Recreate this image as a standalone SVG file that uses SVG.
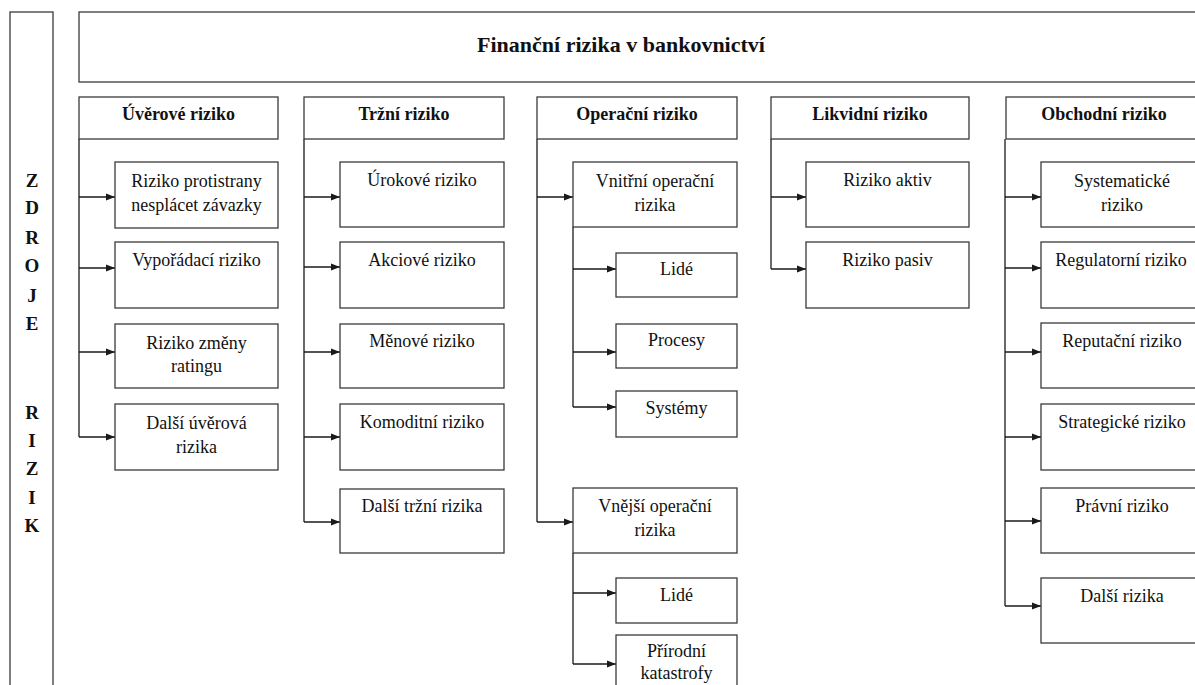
<svg xmlns="http://www.w3.org/2000/svg" width="1195" height="685" viewBox="0 0 1195 685">
<defs>
<marker id="ah" viewBox="0 0 10 10" refX="10" refY="5" markerWidth="9" markerHeight="9" markerUnits="userSpaceOnUse" orient="auto">
<path d="M0,1 L10,5 L0,9 Z" fill="#1a1a1a"/>
</marker>
<style>
rect{fill:#fff;stroke:#3a3a3a;stroke-width:1.3}
text{font-family:"Liberation Serif","Times New Roman",serif;fill:#111;text-anchor:middle}
.t{font-size:22px;font-weight:bold}
.h{font-size:18px;font-weight:bold}
.c{font-size:18px}
.v{font-size:19px;font-weight:bold}
#connectors path{fill:none;stroke:#1a1a1a;stroke-width:1.3}
#connectors .a{marker-end:url(#ah)}
</style>
</defs>
<rect width="1195" height="685" style="fill:#fff;stroke:none"/>

<g id="side">
<rect x="10" y="12" width="43" height="700"/>
<text class="v" x="32" y="187">Z</text>
<text class="v" x="32" y="214">D</text>
<text class="v" x="32" y="244">R</text>
<text class="v" x="32" y="272">O</text>
<text class="v" x="32" y="302">J</text>
<text class="v" x="32" y="330">E</text>
<text class="v" x="32" y="419">R</text>
<text class="v" x="32" y="447">I</text>
<text class="v" x="32" y="475">Z</text>
<text class="v" x="32" y="504">I</text>
<text class="v" x="32" y="532">K</text>
</g>

<g id="title">
<rect x="79" y="12" width="1200" height="70"/>
<text class="t" x="621" y="52">Finanční rizika v bankovnictví</text>
</g>

<g id="connectors">
<path d="M79,139 V437"/>
<path class="a" d="M79,197 H115"/>
<path class="a" d="M79,268 H115"/>
<path class="a" d="M79,352 H115"/>
<path class="a" d="M79,437 H115"/>
<path d="M304,139 V522"/>
<path class="a" d="M304,197 H340"/>
<path class="a" d="M304,267 H340"/>
<path class="a" d="M304,352 H340"/>
<path class="a" d="M304,437 H340"/>
<path class="a" d="M304,522 H340"/>
<path d="M537,139 V522"/>
<path class="a" d="M537,197 H573"/>
<path class="a" d="M537,522 H573"/>
<path d="M573,227 V407"/>
<path class="a" d="M573,269 H616"/>
<path class="a" d="M573,352 H616"/>
<path class="a" d="M573,407 H616"/>
<path d="M573,553 V664"/>
<path class="a" d="M573,593 H616"/>
<path class="a" d="M573,664 H616"/>
<path d="M771,139 V269"/>
<path class="a" d="M771,197 H806"/>
<path class="a" d="M771,269 H806"/>
<path d="M1005,139 V606"/>
<path class="a" d="M1005,197 H1041"/>
<path class="a" d="M1005,268 H1041"/>
<path class="a" d="M1005,352 H1041"/>
<path class="a" d="M1005,437 H1041"/>
<path class="a" d="M1005,521 H1041"/>
<path class="a" d="M1005,606 H1041"/>
</g>

<g id="uverove">
<rect x="79" y="97" width="199" height="42"/>
<text class="h" x="178.5" y="120">Úvěrové riziko</text>
</g>
<g id="u1"><rect x="115" y="162" width="163" height="66"/><text class="c" x="196.5" y="187">Riziko protistrany</text><text class="c" x="196.5" y="211">nesplácet závazky</text></g>
<g id="u2"><rect x="115" y="242" width="163" height="66"/><text class="c" x="196.5" y="266">Vypořádací riziko</text></g>
<g id="u3"><rect x="115" y="324" width="163" height="64"/><text class="c" x="196.5" y="349">Riziko změny</text><text class="c" x="196.5" y="372">ratingu</text></g>
<g id="u4"><rect x="115" y="404" width="163" height="66"/><text class="c" x="196.5" y="429">Další úvěrová</text><text class="c" x="196.5" y="453">rizika</text></g>

<g id="trzni">
<rect x="304" y="97" width="200" height="42"/>
<text class="h" x="404" y="120">Tržní riziko</text>
</g>
<g id="t1"><rect x="340" y="162" width="164" height="65"/><text class="c" x="422" y="186">Úrokové riziko</text></g>
<g id="t2"><rect x="340" y="242" width="164" height="66"/><text class="c" x="422" y="266">Akciové riziko</text></g>
<g id="t3"><rect x="340" y="324" width="164" height="64"/><text class="c" x="422" y="347">Měnové riziko</text></g>
<g id="t4"><rect x="340" y="404" width="164" height="66"/><text class="c" x="422" y="428">Komoditní riziko</text></g>
<g id="t5"><rect x="340" y="489" width="164" height="64"/><text class="c" x="422" y="512">Další tržní rizika</text></g>

<g id="operacni">
<rect x="537" y="97" width="200" height="42"/>
<text class="h" x="637" y="120">Operační riziko</text>
</g>
<g id="o1"><rect x="573" y="162" width="164" height="65"/><text class="c" x="655" y="187">Vnitřní operační</text><text class="c" x="655" y="211">rizika</text></g>
<g id="o11"><rect x="616" y="253" width="121" height="44"/><text class="c" x="676.5" y="275">Lidé</text></g>
<g id="o12"><rect x="616" y="324" width="121" height="44"/><text class="c" x="676.5" y="346">Procesy</text></g>
<g id="o13"><rect x="616" y="391" width="121" height="46"/><text class="c" x="676.5" y="414">Systémy</text></g>
<g id="o2"><rect x="573" y="488" width="164" height="65"/><text class="c" x="655" y="512">Vnější operační</text><text class="c" x="655" y="536">rizika</text></g>
<g id="o21"><rect x="616" y="578" width="121" height="45"/><text class="c" x="676.5" y="601">Lidé</text></g>
<g id="o22"><rect x="616" y="635" width="121" height="70"/><text class="c" x="676.5" y="657">Přírodní</text><text class="c" x="676.5" y="679">katastrofy</text></g>

<g id="likvidni">
<rect x="771" y="97" width="198" height="42"/>
<text class="h" x="870" y="120">Likvidní riziko</text>
</g>
<g id="l1"><rect x="806" y="162" width="163" height="65"/><text class="c" x="887.5" y="186">Riziko aktiv</text></g>
<g id="l2"><rect x="806" y="242" width="163" height="66"/><text class="c" x="887.5" y="266">Riziko pasiv</text></g>

<g id="obchodni">
<rect x="1006" y="97" width="196" height="42"/>
<text class="h" x="1104" y="120">Obchodní riziko</text>
</g>
<g id="b1"><rect x="1041" y="162" width="170" height="65"/><text class="c" x="1122" y="187">Systematické</text><text class="c" x="1122" y="211">riziko</text></g>
<g id="b2"><rect x="1041" y="242" width="170" height="66"/><text class="c" x="1121" y="266">Regulatorní riziko</text></g>
<g id="b3"><rect x="1041" y="323" width="170" height="65"/><text class="c" x="1122" y="347">Reputační riziko</text></g>
<g id="b4"><rect x="1041" y="404" width="170" height="66"/><text class="c" x="1122" y="428">Strategické riziko</text></g>
<g id="b5"><rect x="1041" y="488" width="170" height="65"/><text class="c" x="1122" y="512">Právní riziko</text></g>
<g id="b6"><rect x="1041" y="578" width="170" height="65"/><text class="c" x="1122" y="602">Další rizika</text></g>
</svg>
